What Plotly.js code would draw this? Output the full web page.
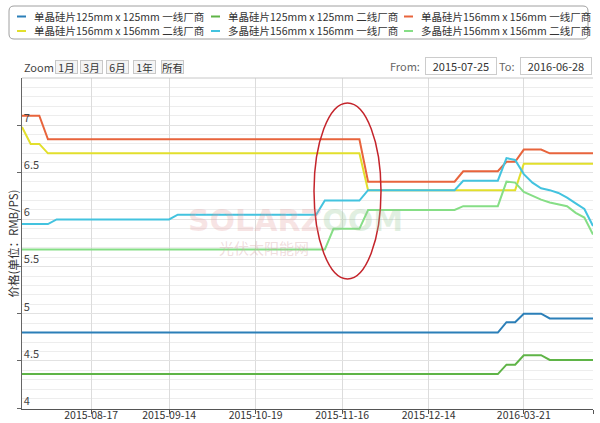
<!DOCTYPE html>
<html><head><meta charset="utf-8">
<script src="https://cdn.plot.ly/plotly-3.0.1.min.js"></script>
<style>html,body{margin:0;padding:0;background:#fff}#chart{width:600px;height:423px}</style>
</head><body><div id="chart"></div>
<script>
// ordinal (category) x axis: observation dates
const dates = ['2015-07-25','2015-07-28','2015-07-30','2015-08-03','2015-08-05','2015-08-07','2015-08-11','2015-08-13',
  '2015-08-17','2015-08-19','2015-08-21','2015-08-25','2015-08-27','2015-08-31','2015-09-02','2015-09-07','2015-09-10',
  '2015-09-14','2015-09-16','2015-09-18','2015-09-22','2015-09-24','2015-09-28','2015-09-30','2015-10-09','2015-10-13','2015-10-15',
  '2015-10-19','2015-10-21','2015-10-23','2015-10-27','2015-10-29','2015-11-02','2015-11-04','2015-11-06','2015-11-10','2015-11-12',
  '2015-11-16','2015-11-18','2015-11-20','2015-11-24','2015-11-26','2015-11-30','2015-12-02','2015-12-04','2015-12-08','2015-12-10',
  '2015-12-14','2015-12-16','2015-12-18','2015-12-22','2015-12-24','2015-12-28','2015-12-30','2016-01-06','2016-01-13','2016-02-24','2016-03-09',
  '2016-03-21','2016-04-01','2016-04-13','2016-04-25','2016-05-06','2016-05-18','2016-05-30','2016-06-13','2016-06-28'];
const tickDates  = ['2015-08-17','2015-09-14','2015-10-19','2015-11-16','2015-12-14','2016-03-21','2016-06-28'];
const tickLabels = ['2015-08-17','2015-09-14','2015-10-19','2015-11-16','2015-12-14','2016-03-21',''];

const seriesNames = ['单晶硅片125mm x 125mm 一线厂商','单晶硅片125mm x 125mm 二线厂商','单晶硅片156mm x 156mm 一线厂商',
  '单晶硅片156mm x 156mm 二线厂商','多晶硅片156mm x 156mm 一线厂商','多晶硅片156mm x 156mm 二线厂商'];
const seriesColors = ['#2b7fb8','#5fb447','#e8643c','#e2df2c','#43c3df','#86de86'];

// price change points (RMB/片)
const mono125aDates = ['2015-07-25','2016-01-13','2016-02-24','2016-03-09','2016-03-21','2016-04-13','2016-04-25','2016-06-28'];
const mono125aValues = [4.80,4.80,4.91,4.91,5.00,5.00,4.95,4.95];
const mono125bDates = ['2015-07-25','2016-01-13','2016-02-24','2016-03-09','2016-03-21','2016-04-13','2016-04-25','2016-06-28'];
const mono125bValues = [4.36,4.36,4.46,4.46,4.56,4.56,4.51,4.51];
const mono156aDates = ['2015-07-25','2015-07-30','2015-08-03','2015-11-20','2015-11-24','2015-12-22','2015-12-24','2016-01-13','2016-02-24',
  '2016-03-09','2016-03-21','2016-04-13','2016-04-25','2016-06-28'];
const mono156aValues = [7.10,7.10,6.85,6.85,6.40,6.40,6.51,6.51,6.61,6.61,6.74,6.74,6.70,6.70];
const mono156bDates = ['2015-07-25','2015-07-28','2015-07-30','2015-08-03','2015-11-20','2015-11-24','2016-03-09','2016-03-21','2016-06-28'];
const mono156bValues = [6.98,6.80,6.80,6.70,6.70,6.31,6.31,6.59,6.59];
const poly156aDates = ['2015-07-25','2015-08-03','2015-08-05','2015-09-14','2015-09-16','2015-11-06','2015-11-10','2015-11-20','2015-11-24',
  '2015-12-22','2015-12-24','2016-01-13','2016-02-24','2016-03-09','2016-03-21','2016-04-01','2016-04-13','2016-04-25','2016-05-06',
  '2016-05-18','2016-05-30','2016-06-13','2016-06-28'];
const poly156aValues = [5.95,5.95,6.00,6.00,6.05,6.05,6.20,6.20,6.31,6.31,6.41,6.41,6.65,6.63,6.48,6.39,6.33,6.31,6.28,6.23,6.17,6.11,5.93];
const poly156bDates = ['2015-07-25','2015-11-10','2015-11-12','2015-11-20','2015-11-24','2015-12-22','2015-12-24','2016-01-13','2016-02-24',
  '2016-03-09','2016-03-21','2016-04-01','2016-04-13','2016-04-25','2016-05-06','2016-05-18','2016-05-30','2016-06-13','2016-06-28'];
const poly156bValues = [5.68,5.68,5.90,5.90,6.10,6.10,6.14,6.14,6.40,6.39,6.29,6.25,6.21,6.18,6.16,6.14,6.07,6.02,5.84];

const seriesDates = [mono125aDates,mono125bDates,mono156aDates,mono156bDates,poly156aDates,poly156bDates];
const seriesValues = [mono125aValues,mono125bValues,mono156aValues,mono156bValues,poly156aValues,poly156bValues];

// ---- geometry helpers (page pixels -> paper coords)
const W = 600, H = 423, ML = 22, MR = 7, MT = 78, MB = 14;
const PW = W - ML - MR, PH = H - MT - MB;
const fx = p => (p - ML) / PW;
const fy = p => (H - MB - p) / PH;
const FONT = '"Noto Sans CJK SC", "Noto Sans", sans-serif';

const traces = [{
  x: dates, y: dates.map(() => null), mode: 'lines', showlegend: false, hoverinfo: 'skip'
}];
seriesNames.forEach((n, i) => traces.push({
  x: seriesDates[i], y: seriesValues[i], name: n, mode: 'lines', type: 'scatter',
  line: {color: seriesColors[i], width: 2}, showlegend: false
}));

const shapes = [], annotations = [];
// legend box
(function(){
  const x0 = fx(9), x1 = fx(588), y0 = fy(39), y1 = fy(6), rx = 5/PW, ry = 5/PH;
  shapes.push({type:'path', xref:'paper', yref:'paper',
    path:`M ${x0+rx},${y1} L ${x1-rx},${y1} Q ${x1},${y1} ${x1},${y1-ry} L ${x1},${y0+ry} Q ${x1},${y0} ${x1-rx},${y0} L ${x0+rx},${y0} Q ${x0},${y0} ${x0},${y0+ry} L ${x0},${y1-ry} Q ${x0},${y1} ${x0+rx},${y1} Z`,
    line:{color:'#a0a0a0', width:1}, fillcolor:'rgba(0,0,0,0)'});
})();
const colStart = [32, 226, 419], rowY = [16.5, 31];
seriesNames.forEach((n, i) => {
  const c = i % 3, r = Math.floor(i / 3);
  shapes.push({type:'line', xref:'paper', yref:'paper', x0: fx(colStart[c]-15), x1: fx(colStart[c]-6),
    y0: fy(rowY[r]), y1: fy(rowY[r]), line:{color: seriesColors[i], width:2}});
  annotations.push({text:n, xref:'paper', yref:'paper', x: fx(colStart[c]), y: fy(rowY[r]),
    xanchor:'left', yanchor:'middle', showarrow:false, font:{family:FONT, size:10.5, color:'#333'}});
});
// range selector row
annotations.push({text:'Zoom', xref:'paper', yref:'paper', x: fx(22), y: fy(67), xanchor:'left', yanchor:'middle',
  showarrow:false, font:{family:FONT, size:11, color:'#444'}});
const btnLabels = ['1月','3月','6月','1年','所有'], btnX = [66, 91, 117, 144, 172];
btnLabels.forEach((b, i) => annotations.push({text:b, xref:'paper', yref:'paper', x: fx(btnX[i]), y: fy(67),
  xanchor:'center', yanchor:'middle', showarrow:false, width:21, height:12, borderpad:0, bgcolor:'#f4f4f4',
  bordercolor:'#c8c8c8', borderwidth:1, font:{family:FONT, size:10.5, color:'#333'}}));
annotations.push({text:'From:', xref:'paper', yref:'paper', x: fx(422), y: fy(66.5), xanchor:'right', yanchor:'middle',
  showarrow:false, font:{family:FONT, size:11, color:'#666'}});
annotations.push({text:'To:', xref:'paper', yref:'paper', x: fx(517), y: fy(66.5), xanchor:'right', yanchor:'middle',
  showarrow:false, font:{family:FONT, size:11, color:'#666'}});
[['2015-07-25', 461], ['2016-06-28', 556]].forEach(([t, cx]) => annotations.push({text:t, xref:'paper', yref:'paper',
  x: fx(cx), y: fy(66.5), xanchor:'center', yanchor:'middle', showarrow:false, width:70, height:16, borderpad:0,
  bgcolor:'#fff', bordercolor:'#cccccc', borderwidth:1, font:{family:FONT, size:11, color:'#333'}}));
// watermark
annotations.push({text:'<b><span style="color:rgba(225,150,150,0.25)">SOLARZ</span><span style="color:rgba(150,200,150,0.28)">OOM</span></b>',
  xref:'paper', yref:'paper', x: fx(295), y: fy(220), xanchor:'center', yanchor:'middle', showarrow:false,
  font:{family:'"DejaVu Sans", sans-serif', size:30}});
annotations.push({text:'光伏太阳能网', xref:'paper', yref:'paper', x: fx(264), y: fy(247), xanchor:'center', yanchor:'middle',
  showarrow:false, font:{family:FONT, size:15, color:'rgba(215,170,170,0.4)'}});
// red highlight ellipse
shapes.push({type:'circle', xref:'paper', yref:'paper', x0: fx(314), x1: fx(381), y0: fy(279), y1: fy(103),
  line:{color:'#c4242b', width:1.5}});
// top edge line
shapes.push({type:'line', xref:'paper', yref:'paper', x0:0, x1:1, y0:1, y1:1, line:{color:'#c8c8c8', width:1}});

const layout = {
  width: W, height: H, margin:{l:ML, r:MR, t:MT, b:MB, pad:0},
  paper_bgcolor:'#fff', plot_bgcolor:'#fff', showlegend:false,
  font:{family:FONT, size:11, color:'#333'},
  xaxis:{type:'category', categoryorder:'array', categoryarray:dates, range:[0, dates.length-1],
    tickmode:'array', tickvals:tickDates, ticktext:tickLabels, showgrid:true, gridcolor:'#dcdcdc',
    showline:true, linecolor:'#555', linewidth:1, ticks:'outside', ticklen:4, tickcolor:'#555',
    ticklabelstandoff:-8,
    tickfont:{family:FONT, size:10.5, color:'#333'}, zeroline:false, fixedrange:true},
  yaxis:{range:[3.99, 7.499], tickmode:'linear', tick0:4, dtick:0.5, showgrid:true, gridcolor:'#e2e2e2',
    minor:{dtick:0.1, showgrid:true, gridcolor:'#ededed', ticks:''},
    showline:true, linecolor:'#666', linewidth:1, ticks:'outside', ticklen:4, tickcolor:'#666',
    ticklabelposition:'inside', ticklabelshift:-7, ticklabelstandoff:1,
    tickfont:{family:FONT, size:11, color:'#444'}, zeroline:false, fixedrange:true,
    title:{text:'价格(单位：RMB/PS)', font:{family:FONT, size:11.5, color:'#333'}, standoff:2}},
  shapes, annotations
};
Plotly.newPlot('chart', traces, layout, {displayModeBar:false, staticPlot:true});
</script></body></html>
